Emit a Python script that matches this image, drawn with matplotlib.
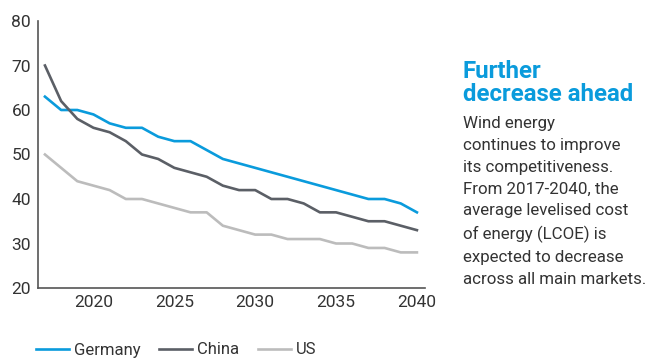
import matplotlib.pyplot as plt
import numpy as np

years = list(range(2017, 2041))
germany = [63, 60, 60, 59, 57, 56, 56, 54, 53, 53, 51, 49, 48, 47, 46, 45, 44, 43, 42, 41, 40, 40, 39, 37]
china = [70, 62, 58, 56, 55, 53, 50, 49, 47, 46, 45, 43, 42, 42, 40, 40, 39, 37, 37, 36, 35, 35, 34, 33]
us = [50, 47, 44, 43, 42, 40, 40, 39, 38, 37, 37, 34, 33, 32, 32, 31, 31, 31, 30, 30, 29, 29, 28, 28]

blue = '#0a9bdc'
dark = '#5b5f66'
light = '#bcbcbc'
txt = '#333333'

plt.rcParams['font.family'] = ['Roboto', 'DejaVu Sans']

fig = plt.figure(figsize=(6.48, 3.58), dpi=100)
ax = fig.add_axes([38 / 648, 1 - 288 / 358, (425 - 38) / 648, (288 - 21) / 358])

ax.plot(years, germany, color=blue, lw=1.9, label='Germany')
ax.plot(years, china, color=dark, lw=1.9, label='China')
ax.plot(years, us, color=light, lw=1.9, label='US')

ax.set_xlim(2016.57, 2040.5)
ax.set_ylim(20, 80)
ax.set_xticks([2020, 2025, 2030, 2035, 2040])
ax.set_yticks(np.arange(20, 81, 10))
ax.tick_params(length=0, labelsize=12.5, labelcolor=txt, pad=5)
for s in ['top', 'right']:
    ax.spines[s].set_visible(False)
for s in ['left', 'bottom']:
    ax.spines[s].set_color('#555555')
    ax.spines[s].set_linewidth(1.2)

# legend centred on y=350 px
fig.legend(loc='center left', bbox_to_anchor=(29 / 648, 1 - 350 / 358), ncol=3, frameon=False,
           fontsize=12, handlelength=2.0, columnspacing=1.1, handletextpad=0.3,
           labelcolor=txt, borderaxespad=0)

fig.text(463 / 648, 1 - 60 / 358, 'Further\ndecrease ahead', color=blue, fontsize=17.3,
         fontweight='bold', va='top', ha='left', linespacing=1.02)
body = ('Wind energy\ncontinues to improve\nits competitiveness.\nFrom 2017-2040, the\n'
        'average levelised cost\nof energy (LCOE) is\nexpected to decrease\n'
        'across all main markets.')
fig.text(463 / 648, 1 - 116 / 358, body, color=txt, fontsize=12.2, va='top', ha='left',
         linespacing=1.57)

plt.savefig('out.png', dpi=100)
